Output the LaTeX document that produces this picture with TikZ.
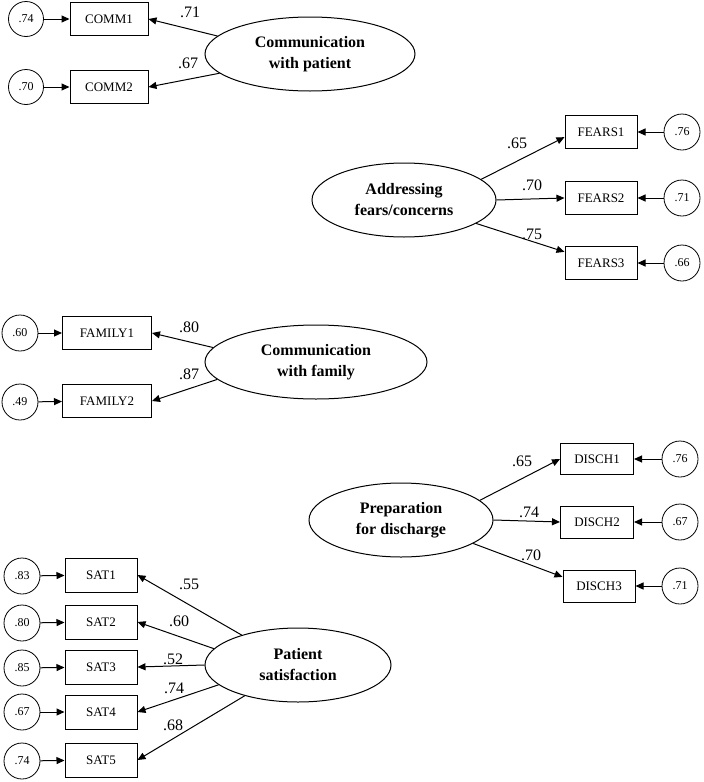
\documentclass[tikz,border=0pt]{standalone}
\usepackage{fontspec}
\setmainfont{Liberation Serif}
\usetikzlibrary{arrows.meta,shapes.geometric}

\begin{document}
\begin{tikzpicture}
[
    x=1pt, y=-1pt,
    latent/.style={draw, ellipse, line width=1pt, inner sep=0pt, align=center,
        minimum height=74pt, font=\fontsize{16}{21}\selectfont\bfseries},
    item/.style={draw, rectangle, line width=1pt, inner sep=0pt,
        minimum height=33pt, font=\fontsize{13}{15}\selectfont},
    resid/.style={draw, circle, line width=0.8pt, inner sep=0pt,
        minimum size=35pt, font=\fontsize{12}{14}\selectfont},
    load/.style={inner sep=0pt, font=\fontsize{16}{18}\selectfont},
    arr/.style={-{Triangle[length=8pt,width=7pt]}, line width=1pt},
]
\useasboundingbox (0,0) rectangle (704,782);

% communication with patient
\node [latent, minimum width=210pt] (cp) at (310,54) {Communication\\with patient};
\node [item, minimum width=78pt] (comm1) at (109,19) {COMM1};
\node [item, minimum width=78pt] (comm2) at (109,87) {COMM2};
\node [resid] (ecomm1) at (26,19) {.74};
\node [resid] (ecomm2) at (26,87) {.70};
\node [load] (lcomm1) at (190,12) {.71};
\node [load] (lcomm2) at (188,63) {.67};
\draw [arr] (cp.169) -- (comm1.east);
\draw [arr] (cp.192) -- (comm2.east);
\draw [arr] (ecomm1) -- (comm1);
\draw [arr] (ecomm2) -- (comm2);

% addressing fears/concerns
\node [latent, minimum width=184pt] (fc) at (404,200) {Addressing\\fears/concerns};
\node [item, minimum width=72pt] (fears1) at (601,132) {FEARS1};
\node [item, minimum width=72pt] (fears2) at (601,198) {FEARS2};
\node [item, minimum width=72pt] (fears3) at (601,263) {FEARS3};
\node [resid, minimum size=36pt] (efears1) at (682,132) {.76};
\node [resid, minimum size=36pt] (efears2) at (682,198) {.71};
\node [resid, minimum size=36pt] (efears3) at (682,263) {.66};
\node [load] (lfears1) at (517,143) {.65};
\node [load] (lfears2) at (532,185) {.70};
\node [load] (lfears3) at (532,234) {.75};
\draw [arr] (fc.15) -- (fears1.188);
\draw [arr] (fc.0) -- (fears2.west);
\draw [arr] (fc.342) -- (fears3.163);
\draw [arr] (efears1) -- (fears1);
\draw [arr] (efears2) -- (fears2);
\draw [arr] (efears3) -- (fears3);

% communication with family
\node [latent, minimum width=222pt] (cf) at (316,362) {Communication\\with family};
\node [item, minimum width=89pt] (family1) at (107,333) {FAMILY1};
\node [item, minimum width=89pt] (family2) at (107,401) {FAMILY2};
\node [resid, minimum size=36pt] (efamily1) at (20,333) {.60};
\node [resid, minimum size=36pt] (efamily2) at (20,402) {.49};
\node [load] (lfamily1) at (189,327) {.80};
\node [load] (lfamily2) at (189,374) {.87};
\draw [arr] (cf.172) -- (family1.east);
\draw [arr] (cf.190) -- (family2.east);
\draw [arr] (efamily1) -- (family1);
\draw [arr] (efamily2) -- (family2);

% preparation for discharge
\node [latent, minimum width=184pt] (pd) at (401,520) {Preparation\\for discharge};
\node [item, minimum width=73pt, minimum height=31pt] (disch1) at (597,459) {DISCH1};
\node [item, minimum width=73pt, minimum height=32pt] (disch2) at (597,522) {DISCH2};
\node [item, minimum width=72pt, minimum height=32pt] (disch3) at (599,586) {DISCH3};
\node [resid, minimum size=36pt] (edisch1) at (680,459) {.76};
\node [resid, minimum size=36pt] (edisch2) at (680,522) {.67};
\node [resid, minimum size=36pt] (edisch3) at (680,586) {.71};
\node [load] (ldisch1) at (522,461) {.65};
\node [load] (ldisch2) at (529,512) {.74};
\node [load] (ldisch3) at (531,555) {.70};
\draw [arr] (pd.14) -- (disch1.west);
\draw [arr] (pd.0) -- (disch2.west);
\draw [arr] (pd.342) -- (disch3.166);
\draw [arr] (edisch1) -- (disch1);
\draw [arr] (edisch2) -- (disch2);
\draw [arr] (edisch3) -- (disch3);

% patient satisfaction
\node [latent, minimum width=186pt] (ps) at (298,665) {Patient\\satisfaction};
\node [item, minimum width=72pt, minimum height=34pt] (sat1) at (101,575) {SAT1};
\node [item, minimum width=72pt, minimum height=34pt] (sat2) at (101,622) {SAT2};
\node [item, minimum width=72pt, minimum height=34pt] (sat3) at (101,667) {SAT3};
\node [item, minimum width=72pt, minimum height=34pt] (sat4) at (101,712) {SAT4};
\node [item, minimum width=72pt, minimum height=34pt] (sat5) at (101,760) {SAT5};
\node [resid, minimum size=36pt] (esat1) at (22,576) {.83};
\node [resid, minimum size=36pt] (esat2) at (22,623) {.80};
\node [resid, minimum size=36pt] (esat3) at (22,668) {.85};
\node [resid, minimum size=36pt] (esat4) at (22,712) {.67};
\node [resid, minimum size=36pt] (esat5) at (22,761) {.74};
\node [load] (lsat1) at (189,584) {.55};
\node [load] (lsat2) at (179,621) {.60};
\node [load] (lsat3) at (173,659) {.52};
\node [load] (lsat4) at (174,688) {.74};
\node [load] (lsat5) at (173,725) {.68};
\draw [arr] (ps.152) -- (sat1.east);
\draw [arr] (ps.169) -- (sat2.east);
\draw [arr] (ps.180) -- (sat3.east);
\draw [arr] (ps.194) -- (sat4.east);
\draw [arr] (ps.210) -- (sat5.east);
\draw [arr] (esat1) -- (sat1);
\draw [arr] (esat2) -- (sat2);
\draw [arr] (esat3) -- (sat3);
\draw [arr] (esat4) -- (sat4);
\draw [arr] (esat5) -- (sat5);
\end{tikzpicture}
\end{document}
